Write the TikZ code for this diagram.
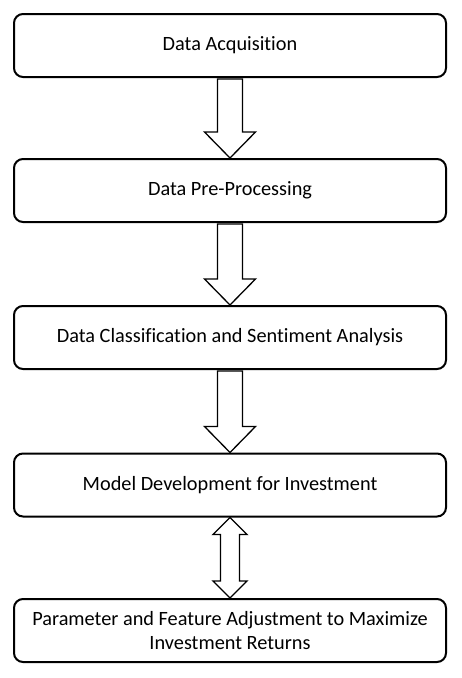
\documentclass[tikz,border=0pt]{standalone}
\usepackage{fontspec}
\setmainfont{Carlito}[Ligatures={NoCommon}]
\usetikzlibrary{calc}

\tikzset{
  stagebox/.style={draw=black, line width=2pt, rounded corners=9pt, fill=white,
    minimum width=432pt, minimum height=63pt, inner sep=0pt, align=center,
    font=\fontsize{20.3}{24}\selectfont},
  flowarrow/.style={draw=black, line width=1.3pt, fill=white, line join=miter},
}

% single block arrow: from bottom of #1 down to top of #2
\newcommand{\stagearrow}[2]{%
  \draw[flowarrow] let \p1=(#1.south), \p2=(#2.north) in
    (\x1-12.5pt,\y1-1pt) -- (\x1-12.5pt,\y2+26pt) -- (\x1-25.5pt,\y2+26pt)
    -- (\x1,\y2) -- (\x1+25.5pt,\y2+26pt) -- (\x1+12.5pt,\y2+26pt)
    -- (\x1+12.5pt,\y1-1pt) -- cycle;
}
% double block arrow between #1 and #2
\newcommand{\twowayarrow}[2]{%
  \draw[flowarrow] let \p1=(#1.south), \p2=(#2.north) in
    (\x1,\y1) -- (\x1+17pt,\y1-17pt) -- (\x1+9.5pt,\y1-17pt)
    -- (\x1+9.5pt,\y2+17pt) -- (\x1+17pt,\y2+17pt) -- (\x1,\y2)
    -- (\x1-17pt,\y2+17pt) -- (\x1-9.5pt,\y2+17pt)
    -- (\x1-9.5pt,\y1-17pt) -- (\x1-17pt,\y1-17pt) -- cycle;
}

\begin{document}
\begin{tikzpicture}[x=1pt,y=-1pt]

  % ── CANVAS ─────────────────────────────────────────────────────────────────
  \useasboundingbox[fill=white] (0,0) rectangle (461,678);

  % ── STAGES ─────────────────────────────────────────────────────────────────
  \node[stagebox] (acquire)  at (230,45.5)  {Data Acquisition};
  \node[stagebox] (preproc)  at (230,190.5) {Data Pre-Processing};
  \node[stagebox] (classify) at (230,337.5) {Data Classification and Sentiment Analysis};
  \node[stagebox] (model)    at (230,485)   {Model Development for Investment};
  \node[stagebox] (tune)     at (230,630.5)
    {Parameter and Feature Adjustment to Maximize\\Investment Returns};

  % ── BLOCK ARROWS ───────────────────────────────────────────────────────────
  \stagearrow{acquire}{preproc}
  \stagearrow{preproc}{classify}
  \stagearrow{classify}{model}
  \twowayarrow{model}{tune}

\end{tikzpicture}
\end{document}
